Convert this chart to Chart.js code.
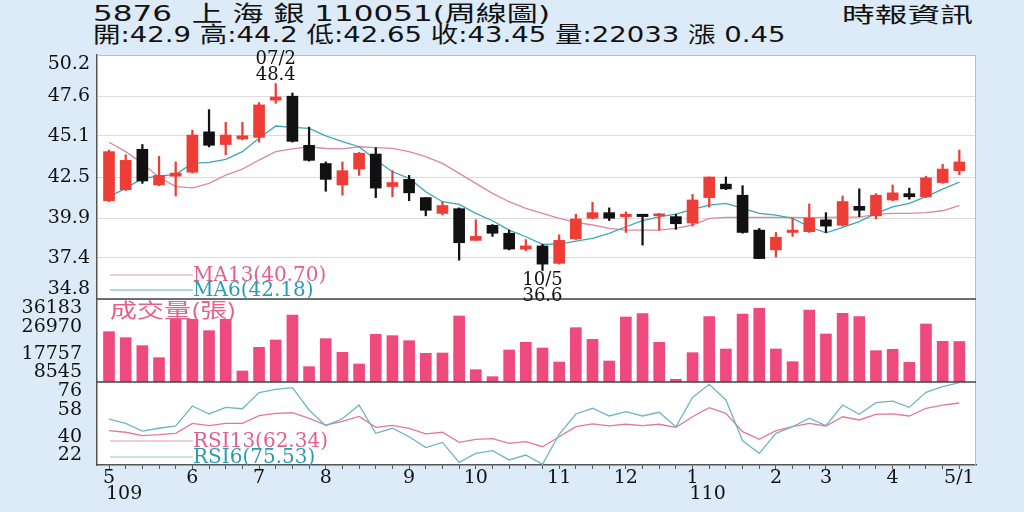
<!DOCTYPE html>
<html>
<head>
<meta charset="utf-8">
<title>5876 上海銀 周線圖</title>
<script src="https://cdn.jsdelivr.net/npm/chart.js@4.4.1/dist/chart.umd.min.js"></script>
<style>
  html, body { margin: 0; padding: 0; }
  body {
    width: 1024px; height: 512px; overflow: hidden; position: relative;
    background: #dcebf7; color: #111;
    font-family: "DejaVu Sans", "Noto Sans CJK TC", sans-serif;
  }
  #box { position: absolute; left: 0; top: 0; width: 1024px; height: 512px; }
  .hd {
    position: absolute; left: 93px; white-space: pre;
    font-size: 22px; line-height: 22px;
    transform-origin: 0 0;
  }
  #line1 { top: 3px; transform: scaleX(1.41); }
  #line2 { top: 24px; transform: scaleX(1.25); }
  #src {
    position: absolute; left: 842px; top: 0px;
    font-family: "Noto Sans CJK TC", sans-serif; font-size: 21px; line-height: 26px;
    transform-origin: 0 0; transform: scaleX(1.56);
  }
</style>
</head>
<body>
<div class="hd" id="line1"></div>
<div class="hd" id="line2"></div>
<div id="src">時報資訊</div>
<div id="box"><canvas id="chart"></canvas></div>
<script>
// 週K資料 (109/5 ~ 110/4, 52週)
const priceOpen  = [41.0, 41.7, 44.25, 42.0, 42.55, 42.8, 45.35, 44.55, 44.9, 45.0, 47.35, 47.6, 44.5, 43.35, 42.0, 43.0, 43.95, 41.9, 42.35, 41.2, 40.2, 40.5, 38.5, 39.45, 38.95, 37.95, 38.15, 37.05, 38.6, 39.9, 40.25, 40.0, 40.15, 40.05, 40.0, 39.6, 41.2, 42.05, 41.35, 39.15, 37.9, 39.0, 39.05, 39.8, 39.45, 40.65, 40.05, 41.05, 41.45, 41.25, 42.15, 42.9];
const priceHigh  = [44.2, 43.9, 44.55, 43.8, 43.45, 45.45, 46.75, 45.95, 45.95, 47.2, 48.4, 47.8, 45.65, 43.45, 43.45, 44.05, 44.35, 42.9, 42.6, 41.2, 40.95, 40.55, 39.8, 39.5, 39.15, 38.55, 38.25, 38.85, 40.15, 40.9, 40.55, 40.3, 40.15, 40.2, 40.15, 41.4, 42.5, 42.5, 41.95, 39.25, 39.0, 39.9, 40.8, 40.25, 41.3, 41.75, 41.45, 42.0, 41.8, 42.55, 43.3, 44.2];
const priceLow   = [40.95, 41.65, 42.1, 41.95, 41.3, 42.75, 44.4, 43.9, 44.85, 44.7, 47.15, 44.7, 43.5, 41.6, 41.35, 42.6, 41.2, 41.25, 41.0, 40.05, 40.1, 37.25, 38.5, 38.75, 37.9, 37.85, 36.6, 37.0, 38.55, 39.85, 39.75, 39.0, 38.2, 39.15, 39.2, 39.4, 40.6, 41.7, 38.95, 37.35, 37.45, 38.75, 39.0, 39.0, 39.4, 40.0, 39.85, 41.0, 41.1, 41.2, 42.1, 42.65];
const priceClose = [44.1, 43.55, 42.25, 42.6, 42.75, 45.15, 44.5, 45.15, 45.1, 47.05, 47.55, 44.75, 43.55, 42.35, 42.9, 44.0, 41.8, 42.15, 41.5, 40.4, 40.7, 38.35, 38.75, 38.95, 37.95, 38.15, 37.0, 38.5, 39.85, 40.25, 39.9, 40.15, 40.0, 40.15, 39.55, 41.05, 42.5, 41.75, 39.0, 37.35, 38.7, 39.15, 39.9, 39.4, 40.95, 40.4, 41.35, 41.5, 41.25, 42.45, 43.0, 43.45];
const ma6  = [41.26, 41.78, 42.41, 42.56, 42.67, 43.36, 43.42, 43.61, 44.1, 44.94, 45.72, 45.63, 45.57, 45.09, 44.73, 44.41, 43.57, 42.83, 42.41, 41.57, 40.94, 40.77, 40.2, 39.74, 39.15, 38.73, 38.25, 38.27, 38.45, 38.63, 38.94, 39.36, 39.74, 39.99, 40.16, 40.46, 40.73, 40.84, 40.52, 40.2, 40.1, 39.89, 39.36, 38.98, 39.32, 39.68, 40.2, 40.62, 40.84, 41.26, 41.74, 42.18];
const ma13 = [44.69, 44.1, 43.36, 42.48, 41.89, 41.82, 42.1, 42.62, 43.0, 43.57, 44.1, 44.27, 44.41, 44.3, 44.27, 44.41, 44.35, 44.31, 44.1, 43.78, 43.36, 42.73, 42.1, 41.47, 40.94, 40.52, 40.2, 39.89, 39.63, 39.47, 39.26, 39.15, 39.15, 39.15, 39.26, 39.47, 39.89, 39.95, 39.95, 39.95, 39.95, 39.95, 39.93, 39.95, 39.97, 39.97, 40.14, 40.2, 40.2, 40.25, 40.37, 40.70];
const volume = [25306, 23308, 20644, 16648, 31500, 31000, 25639, 30500, 12208, 20089, 22531, 30856, 13651, 22975, 18424, 14539, 24418, 23974, 22309, 18091, 18202, 30523, 12652, 10321, 19201, 21754, 19867, 15205, 26638, 22753, 15538, 30190, 31300, 21754, 9433, 18313, 30301, 19534, 31189, 33076, 19534, 15316, 32521, 24529, 31411, 30301, 18979, 19423, 15094, 27859, 22087, 22033];
const rsi6  = [51.9, 49.1, 44.1, 45.9, 47.4, 60.4, 55.2, 59.5, 58.6, 69.1, 71.2, 72.3, 57.8, 47.6, 52.1, 61.0, 42.6, 45.9, 40.4, 33.3, 36.7, 23.7, 29.6, 31.3, 25.3, 28.5, 22.4, 42.0, 55.2, 58.9, 53.9, 56.7, 53.9, 56.3, 46.9, 66.0, 74.5, 64.3, 37.8, 29.6, 42.6, 46.9, 52.4, 47.6, 61.0, 55.0, 62.6, 63.6, 59.5, 69.3, 73.0, 75.53];
const rsi13 = [44.3, 43.3, 41.1, 41.7, 42.6, 49.1, 47.6, 49.1, 49.1, 54.1, 55.6, 56.0, 52.4, 48.0, 50.4, 53.6, 46.5, 47.8, 45.9, 42.2, 43.3, 36.7, 38.7, 39.1, 36.1, 37.2, 33.9, 40.4, 46.9, 48.7, 47.4, 48.5, 47.6, 48.5, 46.5, 53.4, 59.3, 55.6, 43.7, 38.7, 44.3, 46.9, 49.1, 47.4, 53.4, 51.3, 55.0, 55.2, 53.9, 58.9, 61.0, 62.34];

// 軸刻度
const tickWeek = [0, 5, 9, 13, 18, 22, 27, 31, 35, 40, 43, 47, 51];
const tickText = ['5', '6', '7', '8', '9', '10', '11', '12', '1', '2', '3', '4', '5/1'];
const yearWeek = [0, 35];
const yearText = ['109', '110'];
const priceTicks = [34.8, 37.4, 39.9, 42.5, 45.1, 47.6, 50.2];
const volumeTicks = [8545, 17757, 26970, 36183];
const rsiTicks = [22, 40, 58, 76];

// 最高 / 最低標註
const peakWeek = 10, peakDate = '07/2';
const lowWeek = 26, lowDate = '10/5';

const RED = '#ee3d36';
const BLACK = '#111111';
const last = priceClose.length - 1;

// 標頭
document.getElementById('line1').textContent = '5876  上 海 銀 110051(周線圖)';
document.getElementById('line2').textContent =
  `開:${priceOpen[last]} 高:${priceHigh[last]} 低:${priceLow[last]} 收:${priceClose[last]} ` +
  `量:${volume[last]} 漲 ${(priceClose[last] - priceClose[last - 1]).toFixed(2)}`;

const pts = (arr) => arr.map((v, i) => ({ x: i, y: v }));
const candleColor = priceClose.map((c, i) => (c >= priceOpen[i] ? RED : BLACK));

// 上下兩端的刻度字往內縮
function edgeLabel(value, index, ticks) {
  const t = String(value);
  if (index === ticks.length - 1) return ['', t];
  if (index === 0) return [t, ''];
  return t;
}

const tickFont = { family: 'DejaVu Serif', size: 19, lineHeight: '19px' };

// 面板底色、分隔線
const panels = {
  id: 'panels',
  beforeDraw(chart) {
    const { ctx, chartArea: a } = chart;
    ctx.save();
    ctx.fillStyle = '#ffffff';
    ctx.fillRect(a.left, a.top, a.width, a.height);
    ctx.restore();
  },
  afterDraw(chart) {
    const { ctx, chartArea: a, scales } = chart;
    ctx.save();
    ctx.strokeStyle = '#bdbdbd';
    ctx.lineWidth = 1;
    ctx.beginPath();
    ctx.moveTo(a.left, a.top + 0.5);
    ctx.lineTo(a.right, a.top + 0.5);
    ctx.moveTo(a.right - 0.5, a.top);
    ctx.lineTo(a.right - 0.5, a.bottom);
    ctx.stroke();
    ctx.strokeStyle = '#444';
    ctx.lineWidth = 1.5;
    ctx.beginPath();
    for (const y of [scales.yV.top, scales.yR.top]) {
      ctx.moveTo(a.left, y);
      ctx.lineTo(a.right, y);
    }
    ctx.stroke();
    ctx.restore();
  }
};

// 圖例與標註文字
const notes = {
  id: 'notes',
  afterDraw(chart) {
    const { ctx, chartArea: a, scales: { x, yP, yV, yR } } = chart;
    ctx.save();
    ctx.textBaseline = 'middle';

    // 最高、最低點
    ctx.font = '18px "DejaVu Serif"';
    ctx.fillStyle = '#111';
    ctx.textAlign = 'center';
    let px = x.getPixelForValue(peakWeek);
    let py = yP.getPixelForValue(priceHigh[peakWeek]);
    ctx.fillText(peakDate, px, py - 24);
    ctx.fillText(priceHigh[peakWeek].toFixed(1), px, py - 8);
    px = x.getPixelForValue(lowWeek);
    py = yP.getPixelForValue(priceLow[lowWeek]);
    ctx.fillText(lowDate, px, py + 10);
    ctx.fillText(priceLow[lowWeek].toFixed(1), px, py + 26);

    // 線段 + 文字
    ctx.textAlign = 'left';
    ctx.font = '20px "DejaVu Serif"';
    const item = (y, lineColor, textColor, text) => {
      ctx.strokeStyle = lineColor;
      ctx.lineWidth = 1;
      ctx.beginPath();
      ctx.moveTo(a.left + 13, y);
      ctx.lineTo(a.left + 96, y);
      ctx.stroke();
      ctx.fillStyle = textColor;
      ctx.fillText(text, a.left + 96, y + 1);
    };
    item(yP.bottom - 24, '#e39ab0', '#e0608a', `MA13(${ma13[last].toFixed(2)})`);
    item(yP.bottom - 9, '#5fb3c2', '#2a9cb0', `MA6(${ma6[last].toFixed(2)})`);
    item(yR.bottom - 24, '#e39ab0', '#e0608a', `RSI13(${rsi13[last].toFixed(2)})`);
    item(yR.bottom - 8, '#8cc6cf', '#2a9cb0', `RSI6(${rsi6[last].toFixed(2)})`);

    // 成交量標題
    ctx.font = '20px "Noto Sans CJK TC"';
    const vy = yV.top + 11;
    ctx.fillStyle = '#ffffff';
    ctx.fillRect(a.left + 12, yV.top + 2, 130, 18);
    ctx.translate(a.left + 13, vy);
    ctx.scale(1.35, 1);
    ctx.fillStyle = '#e8608a';
    ctx.fillText('成交量(張)', 0, 0);
    ctx.restore();
  }
};

new Chart(document.getElementById('chart'), {
  type: 'bar',
  data: {
    datasets: [
      {
        label: 'body',
        yAxisID: 'yP',
        data: priceOpen.map((o, i) => ({ x: i, y: [o, priceClose[i]] })),
        backgroundColor: candleColor,
        barThickness: 11,
        minBarLength: 2,
        grouped: false
      },
      {
        label: 'wick',
        yAxisID: 'yP',
        data: priceLow.map((l, i) => ({ x: i, y: [l, priceHigh[i]] })),
        backgroundColor: candleColor,
        barThickness: 1.6,
        grouped: false
      },
      {
        type: 'line', label: 'MA6', yAxisID: 'yP', data: pts(ma6),
        borderColor: '#3ea6b6', borderWidth: 1.3, pointRadius: 0, tension: 0
      },
      {
        type: 'line', label: 'MA13', yAxisID: 'yP', data: pts(ma13),
        borderColor: '#dd88a2', borderWidth: 1.3, pointRadius: 0, tension: 0
      },
      {
        label: 'volume',
        yAxisID: 'yV',
        data: pts(volume),
        backgroundColor: '#ef4a7e',
        base: volumeTicks[0],
        barThickness: 11,
        grouped: false
      },
      {
        type: 'line', label: 'RSI6', yAxisID: 'yR', data: pts(rsi6),
        borderColor: '#6fb5c2', borderWidth: 1.3, pointRadius: 0, tension: 0
      },
      {
        type: 'line', label: 'RSI13', yAxisID: 'yR', data: pts(rsi13),
        borderColor: '#e07a98', borderWidth: 1.3, pointRadius: 0, tension: 0
      }
    ]
  },
  options: {
    responsive: true,
    maintainAspectRatio: false,
    animation: false,
    layout: { padding: { left: 0, right: 48, top: 55, bottom: 0 } },
    plugins: { legend: { display: false }, tooltip: { enabled: false } },
    scales: {
      x: {
        type: 'linear',
        position: 'bottom',
        min: -0.72,
        max: 52.0,
        offset: false,
        afterBuildTicks: (s) => { s.ticks = priceClose.map((_, i) => ({ value: i })); },
        afterFit: (s) => { s.height = 47; },
        grid: { offset: false, drawOnChartArea: false, drawTicks: true, tickLength: 4, color: '#555' },
        border: { color: '#555', width: 1.5 },
        ticks: {
          autoSkip: false,
          maxRotation: 0,
          padding: 1,
          color: '#111',
          font: { family: 'DejaVu Serif', size: 19, lineHeight: '16px' },
          callback: (v) => {
            const k = tickWeek.indexOf(v);
            if (k < 0) return '';
            const y = yearWeek.indexOf(v);
            // 年份字靠左對齊月份
            return y < 0 ? tickText[k] : [tickText[k], '     ' + yearText[y]];
          }
        }
      },
      yP: {
        type: 'linear', position: 'left', stack: 'panel', stackWeight: 244, weight: 3,
        min: priceTicks[0], max: priceTicks[priceTicks.length - 1],
        afterBuildTicks: (s) => { s.ticks = priceTicks.map((v) => ({ value: v })); },
        afterFit: (s) => { s.width = 97; },
        grid: { color: '#dcdcdc', drawTicks: false },
        border: { color: '#555', width: 1.5 },
        ticks: { autoSkip: false, padding: 7, color: '#111', font: tickFont, callback: edgeLabel }
      },
      yV: {
        type: 'linear', position: 'left', stack: 'panel', stackWeight: 83, weight: 2,
        min: volumeTicks[0], max: volumeTicks[volumeTicks.length - 1],
        afterBuildTicks: (s) => { s.ticks = volumeTicks.map((v) => ({ value: v })); },
        afterFit: (s) => { s.width = 97; },
        grid: { display: false },
        border: { color: '#555', width: 1.5 },
        ticks: { autoSkip: false, padding: 7, color: '#111', font: tickFont, callback: edgeLabel }
      },
      yR: {
        type: 'linear', position: 'left', stack: 'panel', stackWeight: 83, weight: 1,
        min: rsiTicks[0], max: rsiTicks[rsiTicks.length - 1],
        afterBuildTicks: (s) => { s.ticks = rsiTicks.map((v) => ({ value: v })); },
        afterFit: (s) => { s.width = 97; },
        grid: { display: false },
        border: { color: '#555', width: 1.5 },
        ticks: { autoSkip: false, padding: 7, color: '#111', font: tickFont, callback: edgeLabel }
      }
    }
  },
  plugins: [panels, notes]
});
</script>
</body>
</html>
